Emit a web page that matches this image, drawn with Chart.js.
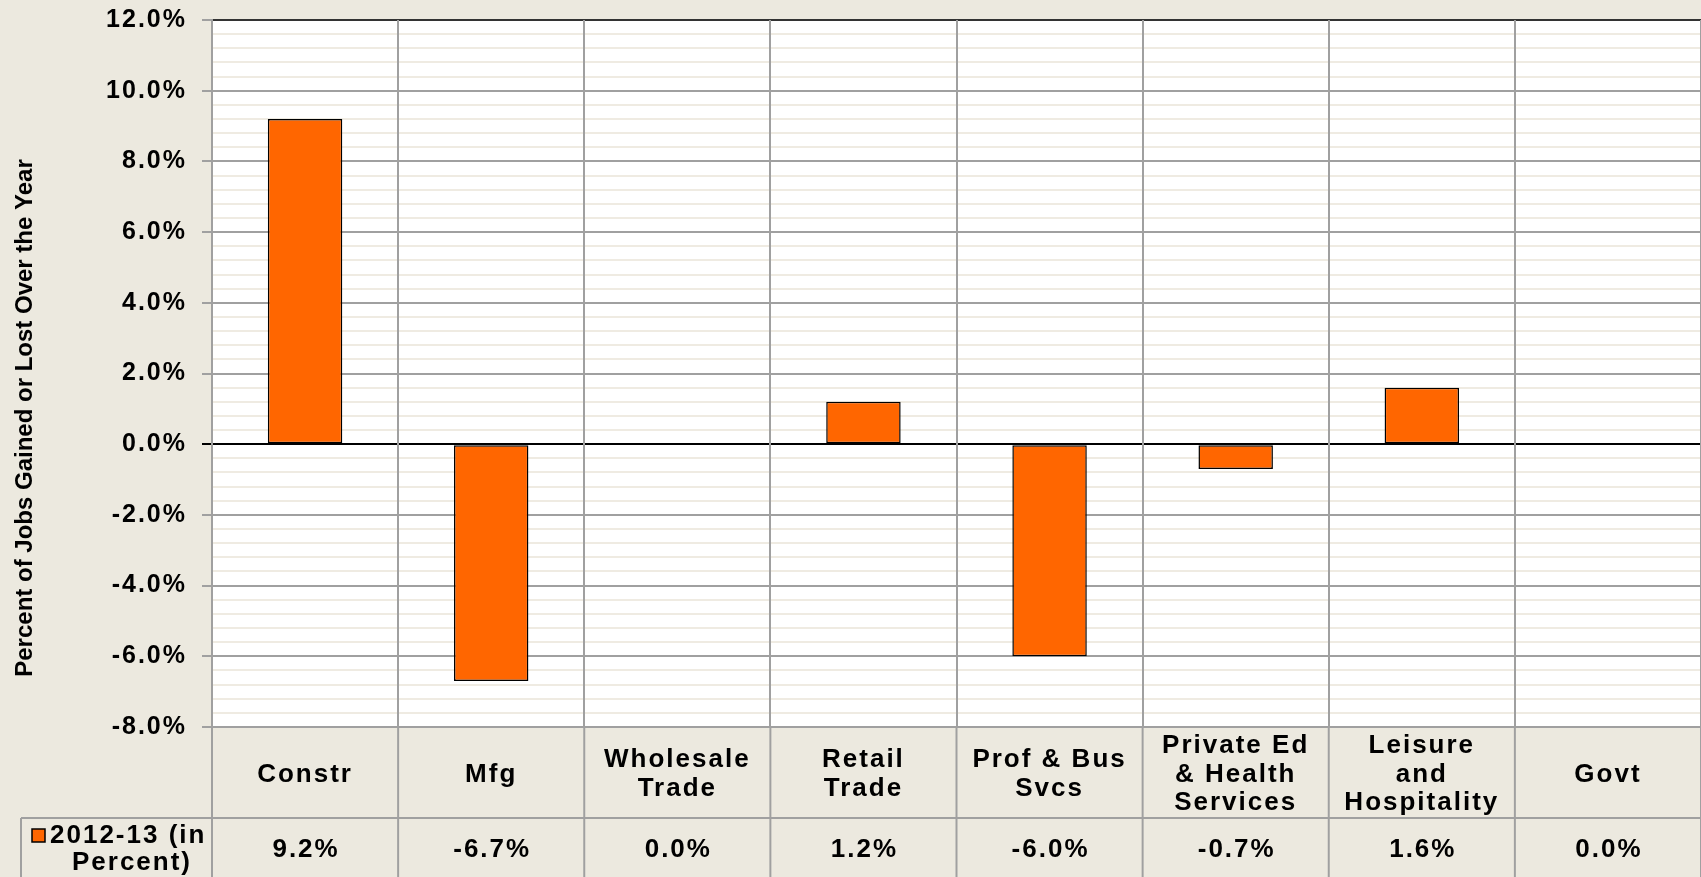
<!DOCTYPE html>
<html><head><meta charset="utf-8">
<script src="https://cdn.jsdelivr.net/npm/chart.js@4.4.1/dist/chart.umd.min.js"></script>
<style>html,body{margin:0;padding:0;background:#ECE9DF;overflow:hidden}canvas{display:block}</style>
</head><body>
<canvas id="c" width="1701" height="877"></canvas>
<script>
// ---- data ----
const categories = [['Constr'], ['Mfg'], ['Wholesale', 'Trade'], ['Retail', 'Trade'], ['Prof & Bus', 'Svcs'], ['Private Ed', '& Health', 'Services'], ['Leisure', 'and', 'Hospitality'], ['Govt']];
const values = [9.2, -6.7, 0.0, 1.2, -6.0, -0.7, 1.6, 0.0];
const seriesLabel = '2012-13 (in Percent)';
const legendLines = ['2012-13 (in', 'Percent)'];
const yMin = -8, yMax = 12, yMinorStep = 0.4, yMajorStep = 2;
const yTitle = 'Percent of Jobs Gained or Lost Over the Year';

// ---- styles ----
const FONT = "'Liberation Sans', Arial, sans-serif";
const BG = '#ECE9DF';
const GRID = '#a0a0a0';
const MINOR = '#efebe2';
const ORANGE = '#FF6600';

function isMajor(v) { const r = v / yMajorStep; return Math.abs(r - Math.round(r)) < 1e-6; }
function fmt(v) { return (Math.abs(v) < 1e-9 ? 0 : v).toFixed(1) + '%'; }

const spacingPlugin = {
  id: 'spacing',
  beforeUpdate(c) { c.ctx.letterSpacing = '2px'; },
  beforeLayout(c) { c.ctx.letterSpacing = '2px'; },
  beforeDraw(c) {
    const ctx = c.ctx;
    ctx.letterSpacing = '2px';
    ctx.save();
    ctx.letterSpacing = '0px';
    ctx.fillStyle = BG;
    ctx.fillRect(0, 0, c.width, c.height);
    const a = c.chartArea;
    ctx.fillStyle = '#ffffff';
    ctx.fillRect(a.left, a.top, a.right - a.left, a.bottom - a.top);
    ctx.restore();
  }
};

const tablePlugin = {
  id: 'table',
  afterDraw(c) {
    const ctx = c.ctx;
    const xs = c.scales.x;
    const a = c.chartArea;
    const H = c.height;
    const step = xs.getPixelForValue(1) - xs.getPixelForValue(0);
    const rowY = 818;
    ctx.save();
    ctx.strokeStyle = GRID;
    ctx.lineWidth = 2;
    // vertical dividers through the table
    for (let i = 0; i <= categories.length; i++) {
      const bx = xs.getPixelForValue(0) - step / 2 + i * step;
      ctx.beginPath(); ctx.moveTo(bx, a.bottom); ctx.lineTo(bx, H); ctx.stroke();
    }
    // row line & legend cell border
    ctx.beginPath(); ctx.moveTo(21, rowY); ctx.lineTo(c.width, rowY); ctx.stroke();
    ctx.beginPath(); ctx.moveTo(21, rowY); ctx.lineTo(21, H); ctx.stroke();
    // values
    ctx.fillStyle = '#000';
    ctx.font = 'bold 26px ' + FONT;
    ctx.letterSpacing = '2px';
    ctx.textAlign = 'center';
    ctx.textBaseline = 'middle';
    values.forEach((v, i) => {
      ctx.fillText(fmt(v), xs.getPixelForValue(i) + 1, 850);
    });
    // legend key
    ctx.fillStyle = ORANGE;
    ctx.fillRect(32, 829, 13, 13);
    ctx.strokeStyle = '#000';
    ctx.lineWidth = 1.5;
    ctx.strokeRect(32, 829, 13, 13);
    ctx.fillStyle = '#000';
    ctx.textAlign = 'left';
    ctx.fillText(legendLines[0], 50, 836);
    ctx.textAlign = 'center';
    ctx.fillText(legendLines[1], 132, 863);
    // y title
    ctx.letterSpacing = '0px';
    ctx.translate(25, 418);
    ctx.rotate(-Math.PI / 2);
    ctx.font = 'bold 24px ' + FONT;
    ctx.textAlign = 'center';
    ctx.textBaseline = 'middle';
    ctx.fillText(yTitle, 0, 0);
    ctx.restore();
  }
};

new Chart(document.getElementById('c'), {
  type: 'bar',
  data: {
    labels: categories,
    datasets: [{
      label: seriesLabel,
      data: values,
      backgroundColor: ORANGE,
      borderColor: '#000',
      borderWidth: 1.5,
      borderSkipped: false,
      categoryPercentage: 1.0,
      barPercentage: 0.4
    }]
  },
  options: {
    responsive: false,
    devicePixelRatio: 1,
    animation: false,
    layout: { padding: { top: 20, left: 0, right: -2, bottom: 0 } },
    plugins: { legend: { display: false }, tooltip: { enabled: false }, title: { display: false } },
    scales: {
      x: {
        offset: true,
        grid: { offset: true, color: GRID, lineWidth: 2, drawTicks: false, z: -0.5 },
        border: { display: true, color: GRID, width: 2 },
        ticks: {
          color: '#000',
          font: { family: FONT, size: 26, weight: 'bold', lineHeight: 1.1 },
          padding: 19,
          crossAlign: 'center',
          maxRotation: 0,
          autoSkip: false
        },
        afterFit(s) { s.height = 150; s.paddingLeft = 0; s.paddingRight = 0; }
      },
      y: {
        min: yMin,
        max: yMax,
        grid: {
          color: (ctx) => {
            const v = ctx.tick.value;
            if (!isMajor(v)) return MINOR;
            if (Math.abs(v) < 1e-9) return '#000';
            if (Math.abs(v - yMax) < 1e-9) return '#333';
            return GRID;
          },
          tickColor: (ctx) => {
            const v = ctx.tick.value;
            if (!isMajor(v)) return 'rgba(0,0,0,0)';
            if (Math.abs(v) < 1e-9) return '#000';
            return GRID;
          },
          lineWidth: 2,
          tickLength: 10,
          drawTicks: true
        },
        border: { display: true, color: GRID, width: 2 },
        ticks: {
          stepSize: yMinorStep,
          autoSkip: false,
          color: '#000',
          padding: 15,
          font: { family: FONT, size: 25, weight: 'bold' },
          callback: (v) => isMajor(v) ? fmt(v) : ''
        },
        afterFit(s) { s.width = 212; s.paddingTop = 0; s.paddingBottom = 0; }
      }
    }
  },
  plugins: [spacingPlugin, tablePlugin]
});
</script>
</body></html>
